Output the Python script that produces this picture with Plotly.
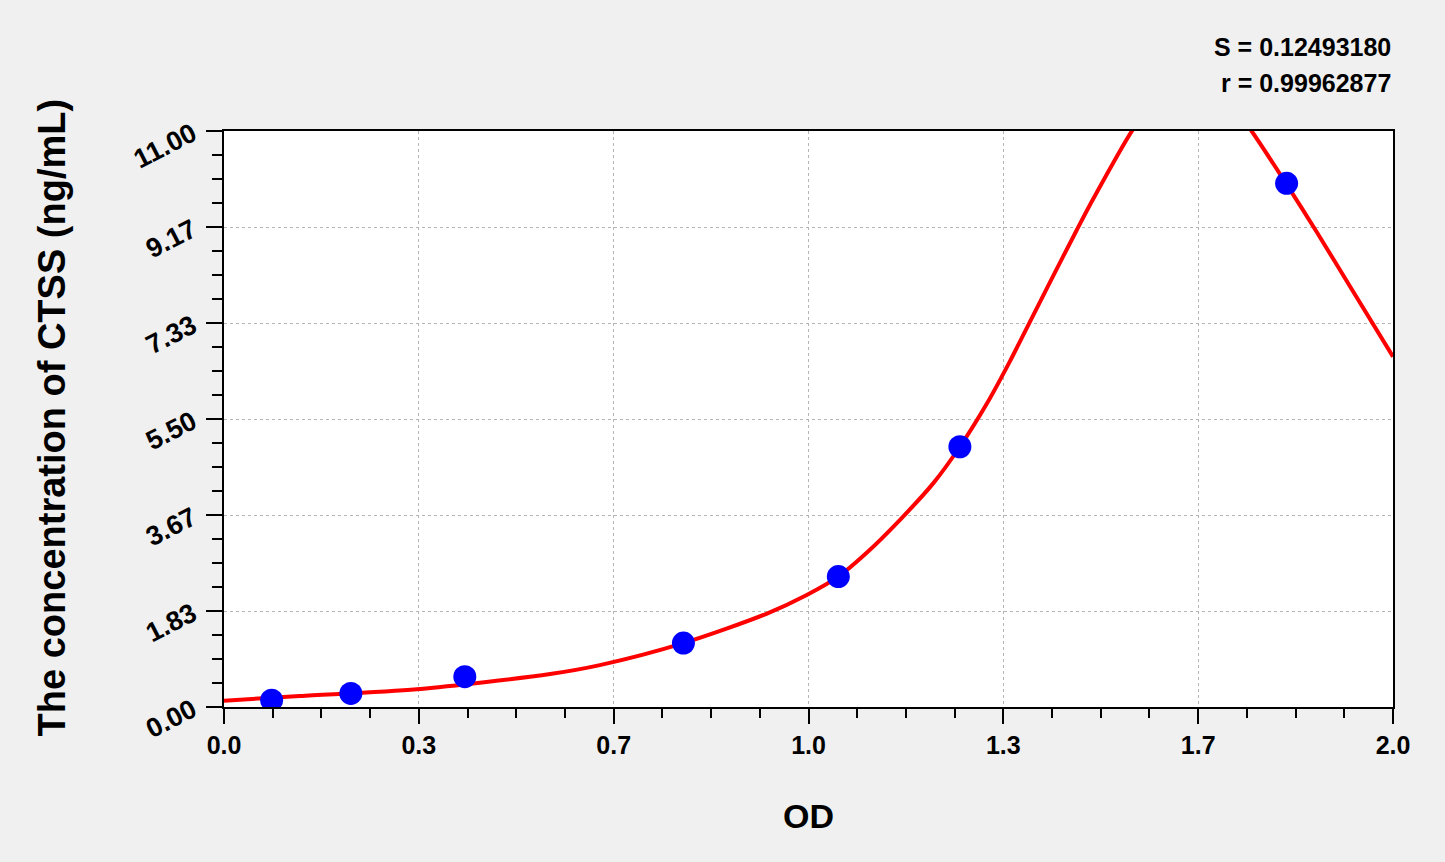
import plotly.graph_objects as go

# standard points
od_points = [0.0815, 0.217, 0.412, 0.786, 1.051, 1.259, 1.818]
conc_points = [0.13, 0.26, 0.58, 1.22, 2.49, 4.97, 10.0]

# fitted curve (goes above the top of the axis near 1.55-1.76)
curve_od = [0.0, 0.13, 0.33, 0.558, 0.643, 0.786, 0.928, 0.997, 1.051, 1.10,
            1.157, 1.214, 1.259, 1.305, 1.345, 1.379, 1.413, 1.459, 1.487, 1.555,
            1.60, 1.655, 1.71, 1.758, 1.818, 1.869, 1.926, 2.0]
curve_conc = [0.12, 0.21, 0.34, 0.63, 0.80, 1.22, 1.78, 2.14, 2.49, 2.95,
              3.58, 4.28, 4.97, 5.79, 6.61, 7.36, 8.11, 9.11, 9.70, 11.03,
              11.7, 12.0, 11.7, 11.0, 9.98, 9.08, 8.04, 6.69]

x_tickvals = [0.0, 0.33333, 0.66667, 1.0, 1.33333, 1.66667, 2.0]
x_ticktext = ["0.0", "0.3", "0.7", "1.0", "1.3", "1.7", "2.0"]
y_tickvals = [0.0, 1.83333, 3.66667, 5.5, 7.33333, 9.16667, 11.0]
y_ticktext = ["0.00", "1.83", "3.67", "5.50", "7.33", "9.17", "11.00"]

stats = ["S = 0.12493180", "r = 0.99962877"]

FONT = "Liberation Sans, Arial, sans-serif"

fig = go.Figure()

fig.add_trace(
    go.Scatter(
        x=curve_od,
        y=curve_conc,
        mode="lines",
        line=dict(color="#ff0000", width=4, shape="spline", smoothing=0.8),
        hoverinfo="skip",
    )
)

fig.add_trace(
    go.Scatter(
        x=od_points,
        y=conc_points,
        mode="markers",
        marker=dict(color="#0000ff", size=23),
    )
)

axis_common = dict(
    showline=True,
    linecolor="black",
    linewidth=2,
    mirror=True,
    ticks="outside",
    tickcolor="black",
    tickwidth=2,
    showgrid=True,
    gridcolor="#b4b4b4",
    gridwidth=1,
    griddash="dot",
    zeroline=False,
    automargin=False,
)

fig.update_xaxes(
    range=[0, 2.0],
    tickmode="array",
    tickvals=x_tickvals,
    ticktext=x_ticktext,
    ticklen=15,
    tickfont=dict(family=FONT, size=25, color="black", weight="bold"),
    minor=dict(dtick=1 / 12, tick0=0, ticks="outside", ticklen=9,
               tickwidth=2, tickcolor="black", showgrid=False),
    **axis_common,
)

fig.update_yaxes(
    range=[0, 11.0],
    tickmode="array",
    tickvals=y_tickvals,
    ticktext=y_ticktext,
    tickangle=-27,
    ticklen=16,
    ticklabelstandoff=8,
    tickfont=dict(family=FONT, size=27, color="black", weight="bold"),
    minor=dict(dtick=11 / 24, tick0=0, ticks="outside", ticklen=10,
               tickwidth=2, tickcolor="black", showgrid=False),
    **axis_common,
)

fig.update_layout(
    width=1445,
    height=862,
    paper_bgcolor="#f0f0f0",
    plot_bgcolor="white",
    showlegend=False,
    margin=dict(l=224, r=52, t=131, b=155),
    font=dict(family=FONT, color="black"),
)

# axis titles and fit statistics as free text
fig.add_annotation(
    text="<b>OD</b>", xref="paper", yref="paper",
    x=0.5, y=-0.19, xanchor="center", yanchor="middle",
    showarrow=False, font=dict(family=FONT, size=34, color="black"),
)
fig.add_annotation(
    text="<b>The concentration of CTSS (ng/mL)</b>", xref="paper", yref="paper",
    x=-0.147, y=0.503, xanchor="center", yanchor="middle", textangle=-90,
    showarrow=False, font=dict(family=FONT, size=38, color="black"),
)
for i, s in enumerate(stats):
    fig.add_annotation(
        text="<b>" + s + "</b>", xref="paper", yref="paper",
        x=1.0, y=1.146 - i * 0.0625, xanchor="right", yanchor="middle",
        showarrow=False, font=dict(family=FONT, size=25, color="black"),
    )

fig.write_html(
    "out.html",
    config={"displayModeBar": False},
    post_script="document.body.style.margin='0';",
)
